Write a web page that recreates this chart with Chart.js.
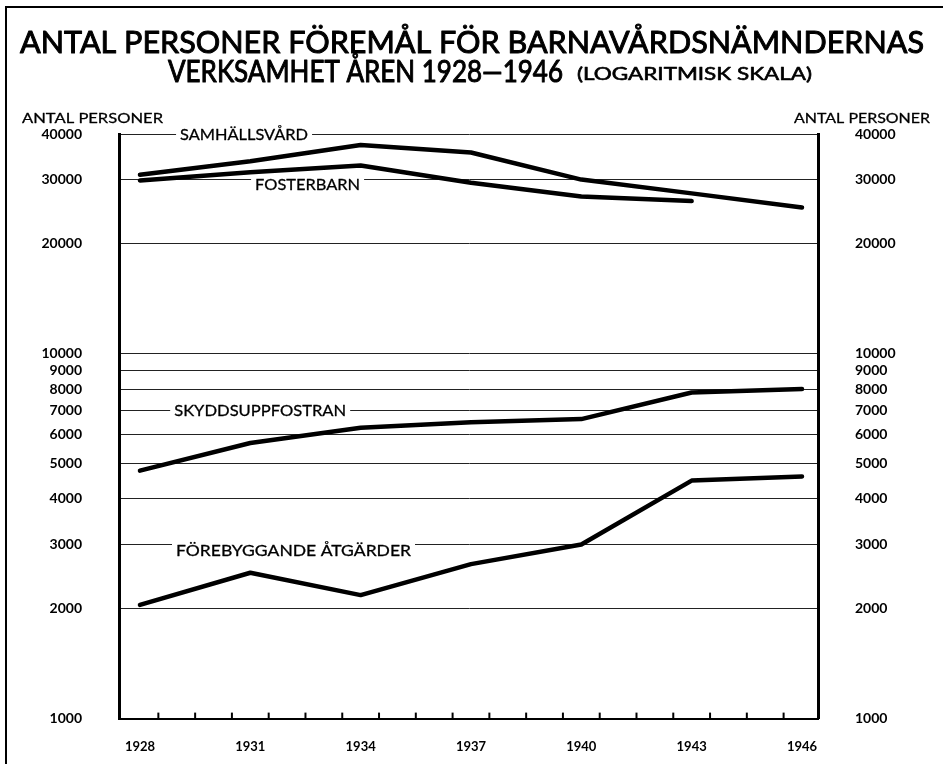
<!DOCTYPE html>
<html>
<head>
<meta charset="utf-8">
<script src="https://cdn.jsdelivr.net/npm/chart.js@4.4.1/dist/chart.umd.min.js"></script>
<style>
  html, body { margin: 0; padding: 0; background: #fff; }
  #wrap { width: 943px; height: 764px; }
</style>
</head>
<body>
<div id="wrap"><canvas id="barnChart" width="943" height="764"></canvas></div>
<script>
// values, every third year
const years = [1928, 1931, 1934, 1937, 1940, 1943, 1946];
const samhallsvard = [30950, 33700, 37300, 35600, 30000, 27500, 25150];
const fosterbarn = [29850, 31400, 32800, 29400, 26950, 26200, null];
const skyddsuppfostran = [4780, 5690, 6270, 6490, 6620, 7830, 8000];
const forebyggande = [2050, 2510, 2180, 2650, 3000, 4490, 4610];

const yearLabels = [1928, 1931, 1934, 1937, 1940, 1943, 1946];
const yTicks = [1000, 2000, 3000, 4000, 5000, 6000, 7000, 8000, 9000, 10000, 20000, 30000, 40000];

const FONT = 'Lato, "DejaVu Sans", sans-serif';

function pts(arr) {
    return years.map((yr, i) => ({ x: yr, y: arr[i] }));
}

function line(label, arr) {
    return {
        label: label,
        data: pts(arr),
        borderColor: '#000',
        borderWidth: 4.5,
        pointRadius: 0,
        tension: 0,
        borderCapStyle: 'round',
        borderJoinStyle: 'round',
        spanGaps: false,
        yAxisID: 'y'
    };
}

// squeeze/stretch a text to a given width, optional outline to thicken it
function fitText(ctx, text, left, y, width, font, stroke) {
    ctx.save();
    ctx.font = font;
    const w = ctx.measureText(text).width;
    ctx.translate(left, y);
    ctx.scale(width / w, 1);
    ctx.fillText(text, 0, 0);
    if (stroke) {
        ctx.lineWidth = stroke;
        ctx.lineJoin = 'round';
        ctx.strokeText(text, 0, 0);
    }
    ctx.restore();
}

// series names sitting on the gridlines (year, value, width in px)
const seriesLabels = [
    { text: 'SAMHÄLLSVÅRD', year: 1929.09, value: 40000, width: 128 },
    { text: 'FOSTERBARN', year: 1931.13, value: 29150, width: 105 },
    { text: 'SKYDDSUPPFOSTRAN', year: 1928.93, value: 7000, width: 172 },
    { text: 'FÖREBYGGANDE ÅTGÄRDER', year: 1928.98, value: 2905, width: 235 }
];

const overlay = {
    id: 'overlay',
    afterDraw(chart) {
        const ctx = chart.ctx;
        const xs = chart.scales.x, ys = chart.scales.y;
        const area = chart.chartArea;
        ctx.save();
        ctx.fillStyle = '#000';
        ctx.strokeStyle = '#000';

        // frame
        ctx.lineWidth = 2;
        ctx.beginPath();
        ctx.moveTo(6, 764); ctx.lineTo(6, 7); ctx.lineTo(943, 7);
        ctx.stroke();

        // title
        ctx.textBaseline = 'alphabetic';
        fitText(ctx, 'ANTAL PERSONER FÖREMÅL FÖR BARNAVÅRDSNÄMNDERNAS', 20, 53, 904, '31px ' + FONT, 1);
        fitText(ctx, 'VERKSAMHET ÅREN 1928—1946', 168, 82, 395, '30px ' + FONT, 1);
        fitText(ctx, '(LOGARITMISK SKALA)', 577, 80, 235, '17px ' + FONT, 0.6);

        // axis titles
        ctx.textBaseline = 'middle';
        fitText(ctx, 'ANTAL PERSONER', 22, 118, 141, '14px ' + FONT, 0.3);
        fitText(ctx, 'ANTAL PERSONER', 794, 118, 136, '14px ' + FONT, 0.3);

        // inward year ticks
        ctx.lineWidth = 2;
        for (let v = 1928.5; v < 1946; v += 1) {
            const px = xs.getPixelForValue(v);
            ctx.beginPath();
            ctx.moveTo(px, area.bottom);
            ctx.lineTo(px, area.bottom - 6);
            ctx.stroke();
        }

        // series names
        seriesLabels.forEach(l => {
            const px = xs.getPixelForValue(l.year);
            const py = ys.getPixelForValue(l.value);
            ctx.fillStyle = '#fff';
            ctx.fillRect(px - 4, py - 7, l.width + 8, 14);
            ctx.fillStyle = '#000';
            fitText(ctx, l.text, px, py + 1, l.width, '16px ' + FONT, 0.3);
        });
        ctx.restore();
    }
};

const ctx = document.getElementById('barnChart').getContext('2d');

const config = {
    type: 'line',
    data: {
        datasets: [
            line('Samhällsvård', samhallsvard),
            line('Fosterbarn', fosterbarn),
            line('Skyddsuppfostran', skyddsuppfostran),
            line('Förebyggande åtgärder', forebyggande)
        ]
    },
    options: {
        responsive: false,
        animation: false,
        layout: { padding: { top: 134, bottom: 0, left: 0, right: 0 } },
        plugins: {
            legend: { display: false },
            tooltip: { enabled: false }
        },
        scales: {
            x: {
                type: 'linear',
                min: 1927.43,
                max: 1946.435,
                afterBuildTicks: s => { s.ticks = yearLabels.map(v => ({ value: v })); },
                afterFit: s => { s.height = 42; },
                grid: { display: false, drawTicks: false },
                border: { display: true, color: '#000', width: 2 },
                ticks: {
                    autoSkip: false,
                    maxRotation: 0,
                    padding: 20,
                    color: '#000',
                    font: { family: FONT, size: 13, weight: 'bold' },
                    callback: v => String(v)
                }
            },
            y: {
                type: 'logarithmic',
                position: 'left',
                min: 1000,
                max: 40000,
                afterBuildTicks: s => { s.ticks = yTicks.map(v => ({ value: v })); },
                afterFit: s => { s.width = 119; },
                grid: { color: '#222', lineWidth: 1, drawTicks: false },
                border: { display: true, color: '#000', width: 3 },
                ticks: {
                    autoSkip: false,
                    padding: 37,
                    color: '#000',
                    font: { family: FONT, size: 14, weight: 'bold' },
                    callback: v => String(v)
                }
            },
            y2: {
                type: 'logarithmic',
                position: 'right',
                min: 1000,
                max: 40000,
                afterBuildTicks: s => { s.ticks = yTicks.map(v => ({ value: v })); },
                afterFit: s => { s.width = 125; },
                grid: { display: false, drawTicks: false },
                border: { display: true, color: '#000', width: 3 },
                ticks: {
                    autoSkip: false,
                    padding: 37,
                    color: '#000',
                    font: { family: FONT, size: 14, weight: 'bold' },
                    callback: v => String(v)
                }
            }
        }
    },
    plugins: [overlay]
};

const barnChart = new Chart(ctx, config);
</script>
</body>
</html>
